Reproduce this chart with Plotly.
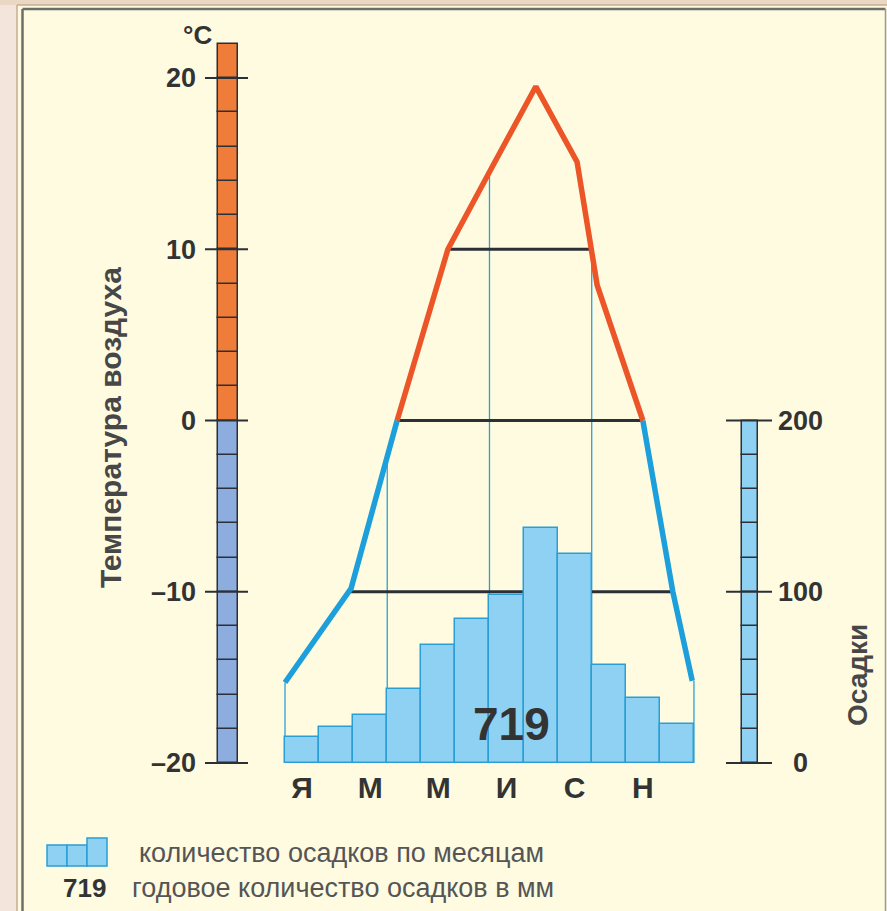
import plotly.graph_objects as go
import numpy as np

W, H = 887, 911

# ---------------- data ----------------
month_tick_pos = [0.5, 2.5, 4.5, 6.5, 8.5, 10.5]
month_tick_text = ["Я", "М", "М", "И", "С", "Н"]
month_centers = [0.5, 1.5, 2.5, 3.5, 4.5, 5.5, 6.5, 7.5, 8.5, 9.5, 10.5, 11.5]
precip = [15, 21, 28, 43, 69, 84, 98, 137, 122, 57, 38, 23]
annual_total = "719"

temp_pos = [0.0, 1.94, 3.29, 4.78, 6.05, 7.36, 8.57, 9.16, 10.5, 11.38, 11.95]
temp_vals = [-15.3, -9.8, 0.0, 10.0, 14.7, 19.5, 15.1, 7.9, 0.0, -10.0, -15.2]

iso_levels = [-10, 0, 10]
season_bounds = [0, 3, 6, 9, 12]

temp_ticks = [-20, -10, 0, 10, 20]
temp_ticktext = ["–20", "–10", "0", "10", "20"]
temp_scale_steps = list(range(-20, 22, 2))
precip_ticks = [0, 100, 200]
precip_scale_steps = list(range(0, 200, 20))

# ---------------- pixel <-> data mapping helpers ----------------
BAR_LEFT_PX, MONTH_PX = 285.0, 34.08
ZERO_PX, DEG_PX = 420.5, 17.125


def px_x(px):
    return (px - BAR_LEFT_PX) / MONTH_PX


def py_t(py):
    return (ZERO_PX - py) / DEG_PX


def t_to_p(t):
    return (t + 20) * 10


x_range = [px_x(0), px_x(W)]
t_range = [py_t(H), py_t(0)]
p_range = [t_to_p(t_range[0]), t_to_p(t_range[1])]

# colours
BG = "#fefbe1"
BAR_FILL = "#8ed1f2"
BAR_LINE = "#2b9fd5"
WARM = "#ec5527"
COLD = "#1c9fdb"
DARK = "#2b2f36"
TXT = "#333333"
FONT = "Liberation Sans"

fig = go.Figure()

# precipitation bars
fig.add_trace(go.Bar(x=month_centers, y=precip, width=1.0, yaxis="y2",
                     marker=dict(color=BAR_FILL, line=dict(color=BAR_LINE, width=1.5)),
                     showlegend=False, hoverinfo="skip"))

# season verticals (bar boundaries up to the temperature curve)
for b in season_bounds:
    top = float(np.interp(b, temp_pos, temp_vals))
    fig.add_trace(go.Scatter(x=[b, b], y=[-20, top], mode="lines",
                             line=dict(color=BAR_LINE, width=1.3),
                             showlegend=False, hoverinfo="skip"))

# isotherm lines from curve crossings
peak = int(np.argmax(temp_vals))
rise_v, rise_x = temp_vals[:peak + 1], temp_pos[:peak + 1]
fall_v, fall_x = temp_vals[peak:][::-1], temp_pos[peak:][::-1]
for lev in iso_levels:
    xs = float(np.interp(lev, rise_v, rise_x))
    xe = float(np.interp(lev, fall_v, fall_x))
    fig.add_trace(go.Scatter(x=[xs, xe], y=[lev, lev], mode="lines",
                             line=dict(color=DARK, width=3),
                             showlegend=False, hoverinfo="skip"))

# temperature curve split at 0 °C
warm = [v if v >= 0 else None for v in temp_vals]
cold = [v if v <= 0 else None for v in temp_vals]
fig.add_trace(go.Scatter(x=temp_pos, y=cold, mode="lines", connectgaps=False,
                         line=dict(color=COLD, width=5.5), showlegend=False, hoverinfo="skip"))
fig.add_trace(go.Scatter(x=temp_pos, y=warm, mode="lines", connectgaps=False,
                         line=dict(color=WARM, width=5.5), showlegend=False, hoverinfo="skip"))

# temperature scale column
tx = px_x(228)
fig.add_trace(go.Bar(x=[tx] * len(temp_scale_steps), y=[2] * len(temp_scale_steps),
                     base=temp_scale_steps, width=20 / MONTH_PX,
                     marker=dict(color=["#f07c3a" if s >= 0 else "#8cadde" for s in temp_scale_steps],
                                 line=dict(color=DARK, width=1.5)),
                     showlegend=False, hoverinfo="skip"))
# precipitation scale column
px_ = px_x(750)
fig.add_trace(go.Bar(x=[px_] * len(precip_scale_steps), y=[20] * len(precip_scale_steps),
                     base=precip_scale_steps, width=16 / MONTH_PX, yaxis="y2",
                     marker=dict(color=BAR_FILL, line=dict(color=DARK, width=1.5)),
                     showlegend=False, hoverinfo="skip"))

shapes = []
for t in temp_ticks:
    shapes.append(dict(type="line", xref="x", yref="y", x0=px_x(205), x1=px_x(248), y0=t, y1=t,
                       line=dict(color=DARK, width=2)))
for p in precip_ticks:
    shapes.append(dict(type="line", xref="x", yref="y2", x0=px_x(726), x1=px_x(772), y0=p, y1=p,
                       line=dict(color=DARK, width=2)))


# frame decoration (paper coords)
def pxp(x):
    return x / W


def pyp(y):
    return 1 - y / H


shapes += [
    dict(type="rect", xref="paper", yref="paper", x0=0, x1=pxp(17), y0=0, y1=1,
         fillcolor="#f4e5dc", line=dict(width=0), layer="below"),
    dict(type="rect", xref="paper", yref="paper", x0=0, x1=1, y0=pyp(5), y1=1,
         fillcolor="#ead8c4", line=dict(width=0), layer="below"),
    dict(type="line", xref="paper", yref="paper", x0=pxp(17), x1=pxp(17), y0=0, y1=pyp(5),
         line=dict(color="#c9ab92", width=1.5)),
    dict(type="line", xref="paper", yref="paper", x0=pxp(17), x1=1, y0=pyp(5), y1=pyp(5),
         line=dict(color="#c9ab92", width=1.5)),
    dict(type="line", xref="paper", yref="paper", x0=pxp(22.5), x1=pxp(22.5), y0=0, y1=pyp(9),
         line=dict(color="#6d6d6d", width=2.5)),
    dict(type="line", xref="paper", yref="paper", x0=pxp(22.5), x1=pxp(885.5), y0=pyp(9), y1=pyp(9),
         line=dict(color="#6d6d6d", width=2.5)),
    dict(type="line", xref="paper", yref="paper", x0=pxp(885.5), x1=pxp(885.5), y0=0, y1=pyp(9),
         line=dict(color="#9a9a9a", width=1.5)),
]
# legend icon
for (x0, x1, y0) in [(47, 67, 845), (67, 87, 845), (87, 107, 838)]:
    shapes.append(dict(type="rect", xref="paper", yref="paper", x0=pxp(x0), x1=pxp(x1),
                       y0=pyp(866), y1=pyp(y0), fillcolor=BAR_FILL,
                       line=dict(color=BAR_LINE, width=1.5)))


def ann(text, x, y, size, color=TXT, xref="paper", yref="paper", xanchor="center", angle=0):
    return dict(text=text, xref=xref, yref=yref, x=x, y=y, xanchor=xanchor, yanchor="middle",
                textangle=angle, showarrow=False, font=dict(family=FONT, size=size, color=color))


annotations = [
    ann("<b>°C</b>", pxp(197), pyp(35), 26),
    ann("<b>Температура воздуха</b>", pxp(110), pyp(428), 30, color="#474747", angle=-90),
    ann("<b>Осадки</b>", pxp(857), pyp(675), 28, color="#474747", angle=-90),
    ann("<b>" + annual_total + "</b>", px_x(511), 23, 46, xref="x", yref="y2"),
    ann("количество осадков по месяцам", pxp(137), pyp(853), 27, color="#555555", xanchor="left"),
    ann("<b>" + annual_total + "</b>", pxp(84), pyp(888), 26),
    ann("годовое количество осадков в мм", pxp(130), pyp(888), 27, color="#555555", xanchor="left"),
]
for p in precip_ticks:
    annotations.append(ann("<b>%d</b>" % p, pxp(800), p, 27, yref="y2"))

fig.update_layout(
    width=W, height=H, autosize=False,
    margin=dict(l=0, r=0, t=0, b=0, pad=0),
    paper_bgcolor=BG, plot_bgcolor=BG,
    barmode="overlay", bargap=0,
    showlegend=False,
    xaxis=dict(range=x_range, domain=[0, 1], anchor="free", position=pyp(763),
               tickvals=month_tick_pos, ticktext=month_tick_text, ticks="",
               showgrid=False, zeroline=False, showline=False, ticklabelstandoff=4,
               tickfont=dict(family=FONT, size=30, color=TXT, weight="bold")),
    yaxis=dict(range=t_range, domain=[0, 1], anchor="free", position=pxp(205),
               tickvals=temp_ticks, ticktext=temp_ticktext, ticks="",
               showgrid=False, zeroline=False, showline=False, ticklabelstandoff=9,
               tickfont=dict(family=FONT, size=27, color=TXT, weight="bold")),
    yaxis2=dict(range=p_range, overlaying="y", anchor="free", position=pxp(772), side="right",
                showticklabels=False, ticks="", showgrid=False, zeroline=False, showline=False),
    shapes=shapes,
    annotations=annotations,
)

fig.write_html("out.html", config={"displayModeBar": False},
               post_script="document.body.style.margin='0';document.body.style.padding='0';")
